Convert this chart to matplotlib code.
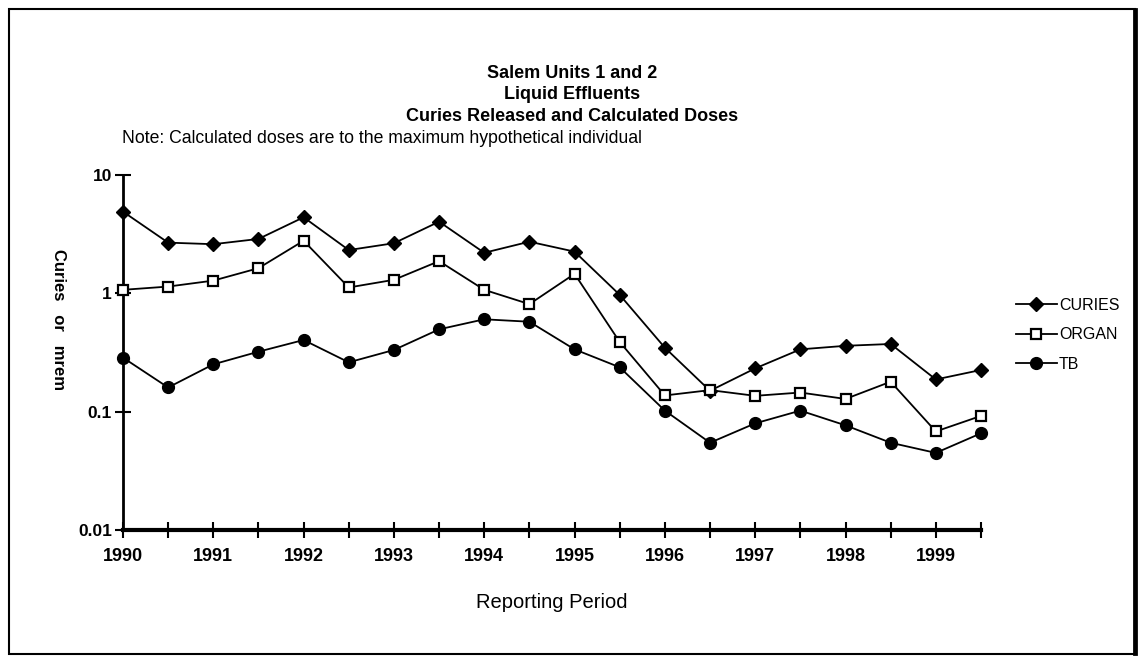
import matplotlib.pyplot as plt
import numpy as np
from matplotlib.patches import Rectangle

plt.rcParams['font.family'] = ['Liberation Sans', 'DejaVu Sans']

periods = np.arange(1990, 2000, 0.5)
curies = [4.9, 2.68, 2.6, 2.88, 4.39, 2.32, 2.65, 4.03, 2.2, 2.73,
          2.25, 0.97, 0.347, 0.150, 0.232, 0.336, 0.36, 0.373, 0.187, 0.225]
organ = [1.07, 1.14, 1.28, 1.63, 2.78, 1.12, 1.3, 1.87, 1.07, 0.81,
         1.46, 0.388, 0.137, 0.152, 0.136, 0.145, 0.128, 0.179, 0.068, 0.092]
tb = [0.286, 0.160, 0.251, 0.321, 0.403, 0.261, 0.332, 0.496, 0.603, 0.575,
      0.336, 0.237, 0.102, 0.0546, 0.0796, 0.102, 0.0766, 0.0546, 0.0448, 0.0656]
year_labels = [str(y) for y in range(1990, 2000)]

fig = plt.figure(figsize=(11.44, 6.59), dpi=100)
ax = fig.add_axes([0.1075, 0.1958, 0.75, 0.5387])

ax.plot(periods, curies, color='black', lw=1.3, marker='D', ms=7,
        mfc='black', mec='black', label='CURIES', clip_on=False, zorder=3)
ax.plot(periods, organ, color='black', lw=1.3, marker='s', ms=7.5,
        mfc='white', mec='black', mew=1.6, label='ORGAN', clip_on=False, zorder=3)
ax.plot(periods, tb, color='black', lw=1.3, marker='o', ms=8.5,
        mfc='black', mec='black', label='TB', clip_on=False, zorder=3)

ax.set_yscale('log')
ax.set_ylim(0.01, 10)
ax.set_xlim(1990, 1999.5)
ax.set_yticks([0.01, 0.1, 1, 10])
ax.set_yticklabels(['0.01', '0.1', '1', '10'], fontweight='bold', fontsize=12.5)
ax.yaxis.set_minor_locator(plt.NullLocator())
ax.set_xticks(np.arange(1990, 2000, 1.0))
ax.set_xticklabels(year_labels, fontweight='bold', fontsize=13)
ax.set_xticks(periods, minor=True)
ax.tick_params(axis='x', which='both', direction='inout', length=12, width=1.5, pad=7)
ax.tick_params(axis='y', which='major', direction='inout', length=12, width=1.5, pad=2)

for s in ['top', 'right']:
    ax.spines[s].set_visible(False)
ax.spines['left'].set_linewidth(2)
ax.spines['bottom'].set_linewidth(3)

ax.set_xlabel('Reporting Period', fontsize=14.5, labelpad=20)
fig.text(0.051, 0.515, 'Curies   or   mrem', rotation=-90, ha='center', va='center',
         fontsize=12, fontweight='bold')

fig.text(0.5, 0.889, 'Salem Units 1 and 2', ha='center', va='center',
         fontsize=13, fontweight='bold')
fig.text(0.5, 0.856, 'Liquid Effluents', ha='center', va='center',
         fontsize=13, fontweight='bold')
fig.text(0.5, 0.823, 'Curies Released and Calculated Doses', ha='center', va='center',
         fontsize=13, fontweight='bold')
fig.text(0.107, 0.79, 'Note: Calculated doses are to the maximum hypothetical individual',
         ha='left', va='center', fontsize=12.7)

ax.legend(loc='center left', bbox_to_anchor=(1.024, 0.55), frameon=False,
          fontsize=11.5, handlelength=2.55, labelspacing=0.9, handletextpad=0.15,
          markerscale=1.0)

fig.patches.append(Rectangle((0.008, 0.008), 0.984, 0.978, transform=fig.transFigure,
                             fill=False, edgecolor='black', lw=1.5))
fig.patches.append(Rectangle((0.991, 0.008), 0.002, 0.978, transform=fig.transFigure,
                             fill=True, color='black', lw=2))

fig.savefig('out.png', dpi=100)
